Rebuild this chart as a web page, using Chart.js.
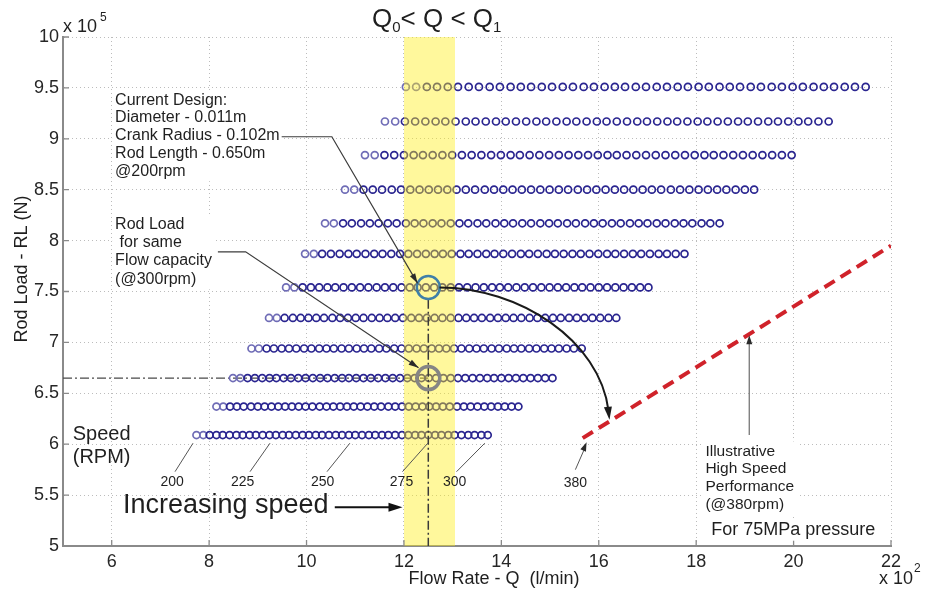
<!DOCTYPE html>
<html>
<head>
<meta charset="utf-8">
<script src="https://cdn.jsdelivr.net/npm/chart.js@4.4.1/dist/chart.umd.min.js"></script>
<style>
html,body{margin:0;padding:0;background:#fff;}
#wrap{width:925px;height:592px;}
</style>
</head>
<body>
<div id="wrap"><canvas id="c" width="925" height="592"></canvas></div>
<script>
// Axis ticks (flow in l/min x 10^2, rod load in N x 10^5)
const xTickValues = [6, 8, 10, 12, 14, 16, 18, 20, 22];
const xTickLabels = ['6', '8', '10', '12', '14', '16', '18', '20', '22'];
const yTickValues = [5, 5.5, 6, 6.5, 7, 7.5, 8, 8.5, 9, 9.5, 10];
const yTickLabels = ['5', '5.5', '6', '6.5', '7', '7.5', '8', '8.5', '9', '9.5', '10'];

// Rod load of each design row (x 10^5 N)
const rodLoadLevels = [6.09, 6.37, 6.65, 6.94, 7.24, 7.54, 7.87, 8.17, 8.50, 8.84, 9.17, 9.51];

// Flow rate of each operating point along a row (x 10^2 l/min)
const flowRow1 = [7.74, 7.88, 8.01, 8.15, 8.28, 8.42, 8.56, 8.69, 8.83, 8.96, 9.10, 9.24, 9.37, 9.51, 9.64, 9.78, 9.92, 10.05, 10.19, 10.32, 10.46, 10.60, 10.73, 10.87, 11.00, 11.14, 11.28, 11.41, 11.55, 11.68, 11.82, 11.96, 12.09, 12.23, 12.36, 12.50, 12.64, 12.77, 12.91, 13.04, 13.18, 13.32, 13.45, 13.59, 13.72];
const flowRow2 = [8.15, 8.29, 8.43, 8.57, 8.71, 8.86, 9.00, 9.14, 9.28, 9.42, 9.56, 9.70, 9.84, 9.98, 10.12, 10.27, 10.41, 10.55, 10.69, 10.83, 10.97, 11.11, 11.25, 11.39, 11.53, 11.68, 11.82, 11.96, 12.10, 12.24, 12.38, 12.52, 12.66, 12.80, 12.94, 13.09, 13.23, 13.37, 13.51, 13.65, 13.79, 13.93, 14.07, 14.21, 14.35];
const flowRow3 = [8.49, 8.64, 8.79, 8.94, 9.09, 9.24, 9.38, 9.53, 9.68, 9.83, 9.98, 10.13, 10.28, 10.43, 10.58, 10.73, 10.87, 11.02, 11.17, 11.32, 11.47, 11.62, 11.77, 11.92, 12.07, 12.22, 12.36, 12.51, 12.66, 12.81, 12.96, 13.11, 13.26, 13.41, 13.56, 13.71, 13.85, 14.00, 14.15, 14.30, 14.45, 14.60, 14.75, 14.90, 15.05];
const flowRow4 = [8.87, 9.02, 9.18, 9.33, 9.49, 9.64, 9.79, 9.95, 10.10, 10.26, 10.41, 10.56, 10.72, 10.87, 11.03, 11.18, 11.33, 11.49, 11.64, 11.80, 11.95, 12.10, 12.26, 12.41, 12.57, 12.72, 12.87, 13.03, 13.18, 13.34, 13.49, 13.64, 13.80, 13.95, 14.11, 14.26, 14.41, 14.57, 14.72, 14.88, 15.03, 15.18, 15.34, 15.49, 15.65];
const flowRow5 = [9.23, 9.39, 9.55, 9.72, 9.88, 10.04, 10.20, 10.36, 10.53, 10.69, 10.85, 11.01, 11.17, 11.34, 11.50, 11.66, 11.82, 11.98, 12.15, 12.31, 12.47, 12.63, 12.79, 12.96, 13.12, 13.28, 13.44, 13.60, 13.77, 13.93, 14.09, 14.25, 14.41, 14.58, 14.74, 14.90, 15.06, 15.22, 15.39, 15.55, 15.71, 15.87, 16.03, 16.20, 16.36];
const flowRow6 = [9.58, 9.75, 9.92, 10.09, 10.26, 10.43, 10.59, 10.76, 10.93, 11.10, 11.27, 11.44, 11.61, 11.78, 11.95, 12.12, 12.28, 12.45, 12.62, 12.79, 12.96, 13.13, 13.30, 13.47, 13.64, 13.81, 13.97, 14.14, 14.31, 14.48, 14.65, 14.82, 14.99, 15.16, 15.33, 15.50, 15.66, 15.83, 16.00, 16.17, 16.34, 16.51, 16.68, 16.85, 17.02];
const flowRow7 = [9.97, 10.15, 10.32, 10.50, 10.68, 10.86, 11.03, 11.21, 11.39, 11.56, 11.74, 11.92, 12.09, 12.27, 12.45, 12.63, 12.80, 12.98, 13.16, 13.33, 13.51, 13.69, 13.86, 14.04, 14.22, 14.40, 14.57, 14.75, 14.93, 15.10, 15.28, 15.46, 15.63, 15.81, 15.99, 16.17, 16.34, 16.52, 16.70, 16.87, 17.05, 17.23, 17.40, 17.58, 17.76];
const flowRow8 = [10.38, 10.56, 10.75, 10.93, 11.12, 11.30, 11.48, 11.67, 11.85, 12.04, 12.22, 12.40, 12.59, 12.77, 12.96, 13.14, 13.32, 13.51, 13.69, 13.88, 14.06, 14.24, 14.43, 14.61, 14.80, 14.98, 15.16, 15.35, 15.53, 15.72, 15.90, 16.08, 16.27, 16.45, 16.64, 16.82, 17.00, 17.19, 17.37, 17.56, 17.74, 17.92, 18.11, 18.29, 18.48];
const flowRow9 = [10.79, 10.98, 11.17, 11.36, 11.55, 11.75, 11.94, 12.13, 12.32, 12.51, 12.70, 12.89, 13.08, 13.27, 13.46, 13.66, 13.85, 14.04, 14.23, 14.42, 14.61, 14.80, 14.99, 15.18, 15.37, 15.57, 15.76, 15.95, 16.14, 16.33, 16.52, 16.71, 16.90, 17.09, 17.28, 17.48, 17.67, 17.86, 18.05, 18.24, 18.43, 18.62, 18.81, 19.00, 19.19];
const flowRow10 = [11.20, 11.40, 11.60, 11.80, 12.00, 12.20, 12.39, 12.59, 12.79, 12.99, 13.19, 13.39, 13.59, 13.79, 13.99, 14.19, 14.38, 14.58, 14.78, 14.98, 15.18, 15.38, 15.58, 15.78, 15.98, 16.18, 16.37, 16.57, 16.77, 16.97, 17.17, 17.37, 17.57, 17.77, 17.97, 18.17, 18.36, 18.56, 18.76, 18.96, 19.16, 19.36, 19.56, 19.76, 19.96];
const flowRow11 = [11.61, 11.82, 12.02, 12.23, 12.44, 12.65, 12.85, 13.06, 13.27, 13.47, 13.68, 13.89, 14.09, 14.30, 14.51, 14.72, 14.92, 15.13, 15.34, 15.54, 15.75, 15.96, 16.16, 16.37, 16.58, 16.79, 16.99, 17.20, 17.41, 17.61, 17.82, 18.03, 18.23, 18.44, 18.65, 18.86, 19.06, 19.27, 19.48, 19.68, 19.89, 20.10, 20.30, 20.51, 20.72];
const flowRow12 = [12.04, 12.25, 12.47, 12.68, 12.90, 13.11, 13.33, 13.54, 13.76, 13.97, 14.19, 14.40, 14.61, 14.83, 15.04, 15.26, 15.47, 15.69, 15.90, 16.12, 16.33, 16.54, 16.76, 16.97, 17.19, 17.40, 17.62, 17.83, 18.05, 18.26, 18.48, 18.69, 18.90, 19.12, 19.33, 19.55, 19.76, 19.98, 20.19, 20.41, 20.62, 20.83, 21.05, 21.26, 21.48];
const flowRows = [flowRow1, flowRow2, flowRow3, flowRow4, flowRow5, flowRow6,
                  flowRow7, flowRow8, flowRow9, flowRow10, flowRow11, flowRow12];

// Highlighted designs [flow, rod load]
const currentDesign = [12.5, 7.54];    // @200rpm
const sameFlowDesign = [12.5, 6.65];   // @300rpm
// Target flow window Q0 .. Q1
const flowWindow = [12.0, 13.05];
// Illustrative high speed performance (@380rpm)
const highSpeedFlow = [15.67, 22.0];
const highSpeedLoad = [6.06, 7.95];

// Speed labels along the lowest row
const speedLabels = ['200', '225', '250', '275', '300'];
const speedLabelFlows = [7.67, 9.25, 10.89, 12.49, 13.66];
const highSpeedLabel = '380';

const FONT = "'Liberation Sans', Arial, Helvetica, sans-serif";
const INK = '#1f1f1f';

function arrowHead(ctx, x1, y1, x2, y2, len, wid, color) {
  const a = Math.atan2(y2 - y1, x2 - x1);
  ctx.save();
  ctx.fillStyle = color;
  ctx.translate(x2, y2);
  ctx.rotate(a);
  ctx.beginPath();
  ctx.moveTo(0, 0);
  ctx.lineTo(-len, wid / 2);
  ctx.lineTo(-len, -wid / 2);
  ctx.closePath();
  ctx.fill();
  ctx.restore();
}

function polyline(ctx, pts, color, width) {
  ctx.save();
  ctx.strokeStyle = color;
  ctx.lineWidth = width;
  ctx.beginPath();
  pts.forEach((p, i) => i ? ctx.lineTo(p[0], p[1]) : ctx.moveTo(p[0], p[1]));
  ctx.stroke();
  ctx.restore();
}

function textBlock(ctx, lines, left, firstCenter, lh, size, box) {
  ctx.save();
  ctx.font = size + 'px ' + FONT;
  if (box) {
    const w = Math.max(...lines.map(l => ctx.measureText(l).width));
    ctx.fillStyle = '#ffffff';
    ctx.fillRect(left - 3, firstCenter - lh / 2 - 1, w + 6, lh * lines.length + 2);
  }
  ctx.fillStyle = INK;
  ctx.textAlign = 'left';
  ctx.textBaseline = 'middle';
  lines.forEach((l, i) => ctx.fillText(l, left, firstCenter + i * lh));
  ctx.restore();
}

const annotate = {
  id: 'annotate',
  afterDraw(chart) {
    const {ctx, chartArea: area, scales: {x, y}} = chart;
    const X = v => x.getPixelForValue(v);
    const Y = v => y.getPixelForValue(v);

    // inward tick marks
    ctx.save();
    ctx.strokeStyle = '#8a8a8a';
    ctx.lineWidth = 1.3;
    ctx.beginPath();
    xTickValues.forEach(v => { ctx.moveTo(X(v), area.bottom); ctx.lineTo(X(v), area.bottom - 6); });
    yTickValues.forEach(v => { ctx.moveTo(area.left, Y(v)); ctx.lineTo(area.left + 6, Y(v)); });
    ctx.stroke();
    ctx.restore();

    // exponent labels
    ctx.save();
    ctx.fillStyle = INK;
    ctx.textBaseline = 'alphabetic';
    ctx.textAlign = 'left';
    ctx.font = '18px ' + FONT;
    ctx.fillText('x 10', 63, 32);
    ctx.fillText('x 10', 879, 584);
    ctx.font = '12px ' + FONT;
    ctx.fillText('5', 100, 21);
    ctx.fillText('2', 914, 572);

    // title  Q0 < Q < Q1
    let tx = 372;
    const big = '26px ' + FONT, small = '15px ' + FONT;
    ctx.font = big; ctx.fillText('Q', tx, 27); tx += ctx.measureText('Q').width;
    ctx.font = small; ctx.fillText('0', tx, 32); tx += ctx.measureText('0').width;
    ctx.font = big; ctx.fillText('< Q < Q', tx, 27); tx += ctx.measureText('< Q < Q').width;
    ctx.font = small; ctx.fillText('1', tx, 32);

    // axis titles
    ctx.font = '18px ' + FONT;
    ctx.textAlign = 'center';
    ctx.fillText('Flow Rate - Q  (l/min)', 494, 584);
    ctx.save();
    ctx.translate(27, 269);
    ctx.rotate(-Math.PI / 2);
    ctx.fillText('Rod Load - RL (N)', 0, 0);
    ctx.restore();
    ctx.restore();

    // design call-outs
    textBlock(ctx, ['Current Design:', 'Diameter - 0.011m', 'Crank Radius - 0.102m',
      'Rod Length - 0.650m', '@200rpm'], X(6.07), Y(9.38), 17.8, 16, true);
    polyline(ctx, [[X(9.49), Y(9.02)], [X(10.52), Y(9.02)], [X(12.28), Y(7.58)]], '#3c3c3c', 1.2);
    arrowHead(ctx, X(10.52), Y(9.02), X(12.28), Y(7.58), 10, 6, '#2a2a2a');

    textBlock(ctx, ['Rod Load', ' for same', 'Flow capacity', '(@300rpm)'],
      X(6.07), Y(8.16), 18.3, 16, true);
    polyline(ctx, [[X(8.18), Y(7.89)], [X(8.75), Y(7.89)], [X(12.30), Y(6.75)]], '#3c3c3c', 1.2);
    arrowHead(ctx, X(8.75), Y(7.89), X(12.30), Y(6.75), 10, 6, '#2a2a2a');

    // curved arrow from the current design to the high speed line
    ctx.save();
    ctx.strokeStyle = '#1a1a1a';
    ctx.lineWidth = 2;
    ctx.beginPath();
    ctx.moveTo(X(12.73), Y(7.54));
    ctx.bezierCurveTo(X(14.37), Y(7.54), X(16.02), Y(7.02), X(16.20), Y(6.33));
    ctx.stroke();
    ctx.restore();
    arrowHead(ctx, X(16.02), Y(7.02), X(16.22), Y(6.24), 13, 8, '#1a1a1a');

    // speed labels
    textBlock(ctx, ['Speed', '(RPM)'], X(5.2), Y(6.10), 23, 20, false);
    ctx.save();
    ctx.font = '14px ' + FONT;
    ctx.fillStyle = INK;
    ctx.textAlign = 'center';
    ctx.textBaseline = 'middle';
    const labelX = [7.24, 8.69, 10.33, 11.95, 13.04];
    const leaderX = [7.30, 8.84, 10.42, 11.97, 13.08];
    speedLabels.forEach((s, i) => {
      ctx.fillText(s, X(labelX[i]), Y(5.63));
      polyline(ctx, [[X(leaderX[i]), Y(5.73)], [X(speedLabelFlows[i]), Y(6.01)]], '#555555', 1);
    });
    ctx.fillText(highSpeedLabel, X(15.52), Y(5.62));
    ctx.restore();
    polyline(ctx, [[X(15.52), Y(5.75)], [X(15.73), Y(5.98)]], '#555555', 1);
    arrowHead(ctx, X(15.52), Y(5.75), X(15.75), Y(6.02), 9, 6, '#2a2a2a');

    // increasing speed
    textBlock(ctx, ['Increasing speed'], X(6.23), Y(5.40), 30, 27, false);
    polyline(ctx, [[X(10.58), Y(5.38)], [X(11.75), Y(5.38)]], '#111111', 2);
    arrowHead(ctx, X(10.58), Y(5.38), X(11.97), Y(5.38), 14, 9, '#111111');

    // high speed note
    polyline(ctx, [[X(19.09), Y(6.09)], [X(19.09), Y(7.00)]], '#777777', 1.3);
    arrowHead(ctx, X(19.09), Y(6.09), X(19.09), Y(7.07), 9, 6, '#2a2a2a');
    textBlock(ctx, ['Illustrative', 'High Speed', 'Performance', '(@380rpm)'],
      X(18.19), Y(5.93), 17.8, 15.5, true);
    textBlock(ctx, ['For 75MPa pressure'], X(18.31), Y(5.16), 20, 18, true);
  }
};

const rowSets = flowRows.map((row, r) => ({
  type: 'scatter',
  data: row.map(q => ({x: q, y: rodLoadLevels[r]})),
  showLine: false,
  pointStyle: 'circle',
  pointRadius: 3.5,
  pointBorderWidth: 1.7,
  pointBackgroundColor: 'rgba(0,0,0,0)',
  pointBorderColor: c => c.dataIndex < 2 ? '#6f6cb6' : '#2a2590',
  order: 5
}));

const datasets = [
  // target flow window, translucent over the rows
  {
    type: 'line',
    data: [{x: flowWindow[0], y: 10}, {x: flowWindow[1], y: 10}],
    borderWidth: 0,
    pointRadius: 0,
    fill: 'start',
    backgroundColor: 'rgba(255, 238, 20, 0.42)',
    order: 4
  },
  // reference lines through the two designs
  {
    type: 'line',
    data: [{x: 5, y: sameFlowDesign[1]}, {x: sameFlowDesign[0], y: sameFlowDesign[1]}],
    borderColor: '#4a4a4a', borderWidth: 1.3, borderDash: [9, 3, 2, 3],
    pointRadius: 0, fill: false, order: 6
  },
  {
    type: 'line',
    data: [{x: currentDesign[0], y: currentDesign[1] - 0.12}, {x: currentDesign[0], y: 5}],
    borderColor: '#3a3a3a', borderWidth: 1.5, borderDash: [9, 3, 2, 3],
    pointRadius: 0, fill: false, order: 3
  },
  // high speed performance
  {
    type: 'line',
    data: [{x: highSpeedFlow[0], y: highSpeedLoad[0]}, {x: highSpeedFlow[1], y: highSpeedLoad[1]}],
    borderColor: '#d0222a', borderWidth: 4, borderDash: [12, 7],
    pointRadius: 0, fill: false, order: 2
  },
  // highlighted designs
  {
    type: 'scatter',
    data: [{x: currentDesign[0], y: currentDesign[1]}],
    pointRadius: 11.5, pointBorderWidth: 2.5,
    pointBorderColor: '#3f7fa8', pointBackgroundColor: 'rgba(0,0,0,0)', order: 1
  },
  {
    type: 'scatter',
    data: [{x: sameFlowDesign[0], y: sameFlowDesign[1]}],
    pointRadius: 11.5, pointBorderWidth: 3.5,
    pointBorderColor: '#858585', pointBackgroundColor: 'rgba(0,0,0,0)', order: 1
  },
  ...rowSets
];

new Chart(document.getElementById('c'), {
  type: 'scatter',
  data: {datasets},
  options: {
    responsive: false,
    animation: false,
    devicePixelRatio: 1,
    events: [],
    layout: {padding: {left: 0, right: 34, top: 37, bottom: 0}},
    plugins: {legend: {display: false}, tooltip: {enabled: false}, title: {display: false}},
    scales: {
      x: {
        type: 'linear', min: 5, max: 22,
        afterBuildTicks: s => { s.ticks = xTickValues.map(v => ({value: v})); },
        afterFit: s => { s.height = 46; },
        ticks: {
          callback: (v, i) => xTickLabels[i],
          font: {family: FONT, size: 18}, color: '#262626', padding: 5,
          maxRotation: 0, autoSkip: false
        },
        grid: {color: '#bcbcbc', lineWidth: 1, drawTicks: false},
        border: {color: '#8a8a8a', width: 2, dash: [1, 3]}
      },
      y: {
        type: 'linear', min: 5, max: 10,
        afterBuildTicks: s => { s.ticks = yTickValues.map(v => ({value: v})); },
        afterFit: s => { s.width = 63; },
        ticks: {
          callback: (v, i) => yTickLabels[i],
          font: {family: FONT, size: 18}, color: '#262626', padding: 4, autoSkip: false
        },
        grid: {color: '#bcbcbc', lineWidth: 1, drawTicks: false},
        border: {color: '#8a8a8a', width: 2, dash: [1, 3]}
      }
    }
  },
  plugins: [annotate]
});
</script>
</body>
</html>
